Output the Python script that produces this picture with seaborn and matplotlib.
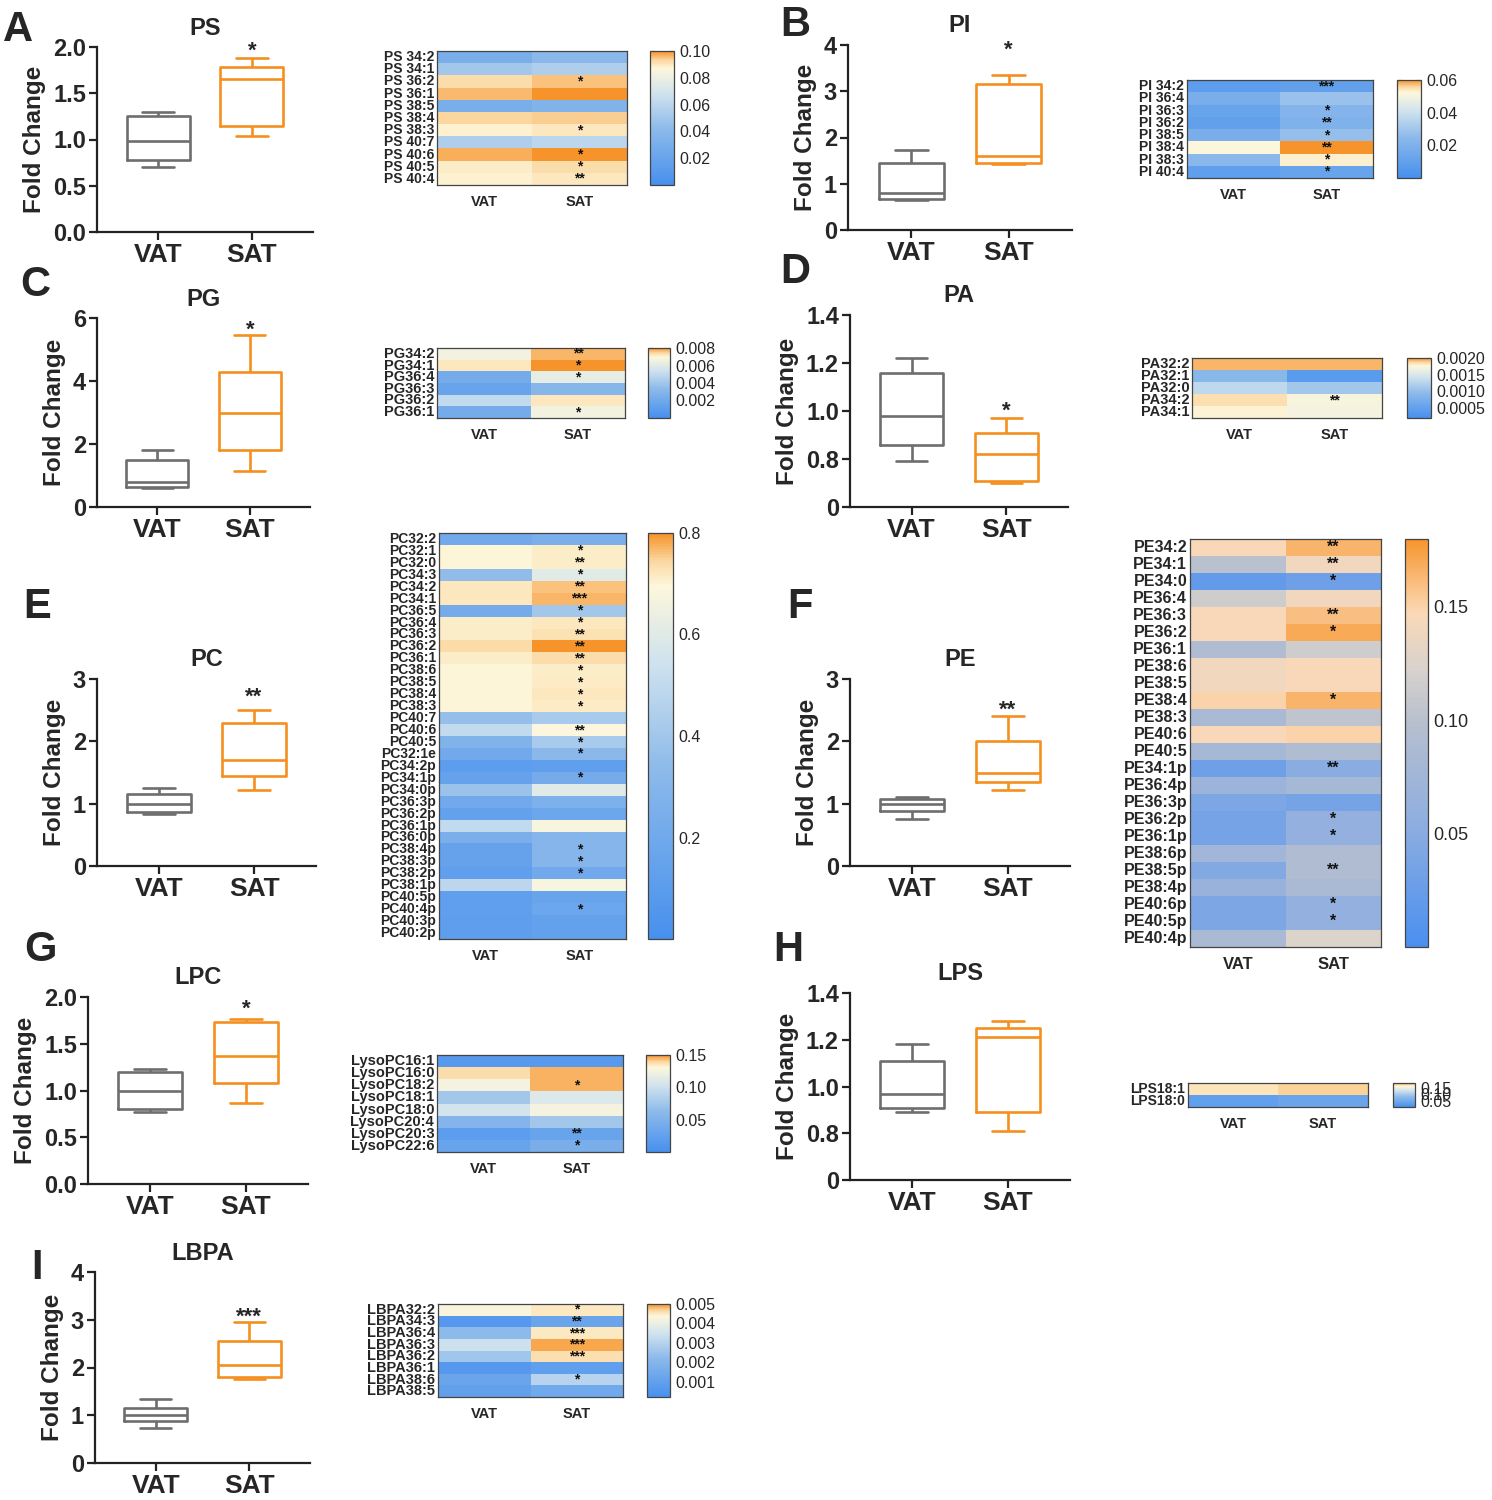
import numpy as np
import pandas as pd
import matplotlib
matplotlib.use("Agg")
import matplotlib.pyplot as plt
import seaborn as sns
from matplotlib.colors import LinearSegmentedColormap
from matplotlib.ticker import FormatStrFormatter

groups = ["VAT", "SAT"]

# ---------------- box plot summaries: [min, q1, median, q3, max] ----------------
PS_box_VAT = [0.70, 0.78, 0.98, 1.25, 1.30]
PS_box_SAT = [1.04, 1.15, 1.65, 1.78, 1.88]
PI_box_VAT = [0.65, 0.68, 0.80, 1.45, 1.72]
PI_box_SAT = [1.42, 1.45, 1.60, 3.15, 3.35]
PG_box_VAT = [0.60, 0.65, 0.80, 1.50, 1.80]
PG_box_SAT = [1.15, 1.80, 3.00, 4.30, 5.45]
PA_box_VAT = [0.79, 0.86, 0.98, 1.16, 1.22]
PA_box_SAT = [0.70, 0.71, 0.82, 0.91, 0.97]
PC_box_VAT = [0.83, 0.87, 1.00, 1.15, 1.25]
PC_box_SAT = [1.22, 1.45, 1.70, 2.30, 2.50]
PE_box_VAT = [0.75, 0.88, 1.00, 1.08, 1.10]
PE_box_SAT = [1.22, 1.35, 1.50, 2.00, 2.40]
LPC_box_VAT = [0.77, 0.80, 1.00, 1.20, 1.23]
LPC_box_SAT = [0.87, 1.08, 1.37, 1.73, 1.77]
LPS_box_VAT = [0.89, 0.91, 0.97, 1.11, 1.18]
LPS_box_SAT = [0.81, 0.89, 1.21, 1.25, 1.28]
LBPA_box_VAT = [0.73, 0.88, 1.00, 1.15, 1.35]
LBPA_box_SAT = [1.75, 1.80, 2.05, 2.55, 2.95]
box_sig = {"PS": "*", "PI": "*", "PG": "*", "PA": "*", "PC": "**", "PE": "**",
           "LPC": "*", "LPS": "", "LBPA": "***"}

# ---------------- heatmap data ----------------
PS_species = ["PS 34:2", "PS 34:1", "PS 36:2", "PS 36:1", "PS 38:5", "PS 38:4",
              "PS 38:3", "PS 40:7", "PS 40:6", "PS 40:5", "PS 40:4"]
PS_VAT = [0.030, 0.050, 0.092, 0.096, 0.030, 0.093, 0.088, 0.055, 0.097, 0.089, 0.088]
PS_SAT = [0.040, 0.055, 0.095, 0.100, 0.035, 0.094, 0.090, 0.060, 0.100, 0.092, 0.090]
PS_sig = ["", "", "*", "", "", "", "*", "", "*", "*", "**"]

PI_species = ["PI 34:2", "PI 36:4", "PI 36:3", "PI 36:2", "PI 38:5", "PI 38:4",
              "PI 38:3", "PI 40:4"]
PI_VAT = [0.008, 0.018, 0.012, 0.010, 0.018, 0.052, 0.024, 0.009]
PI_SAT = [0.010, 0.028, 0.022, 0.020, 0.027, 0.060, 0.053, 0.012]
PI_sig = ["***", "", "*", "**", "*", "**", "*", "*"]

PG_species = ["PG34:2", "PG34:1", "PG36:4", "PG36:3", "PG36:2", "PG36:1"]
PG_VAT = [0.0066, 0.0072, 0.0022, 0.0016, 0.0050, 0.0022]
PG_SAT = [0.0077, 0.0080, 0.0062, 0.0030, 0.0072, 0.0066]
PG_sig = ["**", "*", "*", "", "", "*"]

PA_species = ["PA32:2", "PA32:1", "PA32:0", "PA34:2", "PA34:1"]
PA_VAT = [0.00193, 0.0009, 0.0013, 0.00185, 0.00178]
PA_SAT = [0.00193, 0.0004, 0.0011, 0.00172, 0.00170]
PA_sig = ["", "", "", "**", ""]

PC_species = ["PC32:2", "PC32:1", "PC32:0", "PC34:3", "PC34:2", "PC34:1", "PC36:5",
              "PC36:4", "PC36:3", "PC36:2", "PC36:1", "PC38:6", "PC38:5", "PC38:4",
              "PC38:3", "PC40:7", "PC40:6", "PC40:5", "PC32:1e", "PC34:2p", "PC34:1p",
              "PC34:0p", "PC36:3p", "PC36:2p", "PC36:1p", "PC36:0p", "PC38:4p",
              "PC38:3p", "PC38:2p", "PC38:1p", "PC40:5p", "PC40:4p", "PC40:3p", "PC40:2p"]
PC_VAT = [0.20, 0.70, 0.70, 0.35, 0.72, 0.72, 0.22, 0.71, 0.71, 0.74, 0.71, 0.70,
          0.70, 0.70, 0.70, 0.36, 0.50, 0.28, 0.20, 0.10, 0.15, 0.38, 0.20, 0.14,
          0.50, 0.25, 0.15, 0.15, 0.12, 0.48, 0.12, 0.12, 0.11, 0.11]
PC_SAT = [0.25, 0.71, 0.71, 0.60, 0.76, 0.77, 0.40, 0.72, 0.73, 0.80, 0.735, 0.71,
          0.715, 0.72, 0.715, 0.42, 0.69, 0.42, 0.32, 0.12, 0.22, 0.60, 0.26, 0.18,
          0.68, 0.30, 0.30, 0.30, 0.20, 0.68, 0.16, 0.18, 0.14, 0.14]
PC_sig = ["", "*", "**", "*", "**", "***", "*", "*", "**", "**", "**", "*", "*", "*",
          "*", "", "**", "*", "*", "", "*", "", "", "", "", "", "*", "*", "*", "", "",
          "*", "", ""]

PE_species = ["PE34:2", "PE34:1", "PE34:0", "PE36:4", "PE36:3", "PE36:2", "PE36:1",
              "PE38:6", "PE38:5", "PE38:4", "PE38:3", "PE40:6", "PE40:5", "PE34:1p",
              "PE36:4p", "PE36:3p", "PE36:2p", "PE36:1p", "PE38:6p", "PE38:5p",
              "PE38:4p", "PE40:6p", "PE40:5p", "PE40:4p"]
PE_VAT = [0.145, 0.100, 0.020, 0.115, 0.145, 0.145, 0.090, 0.140, 0.140, 0.150,
          0.085, 0.145, 0.080, 0.030, 0.070, 0.040, 0.035, 0.035, 0.075, 0.045,
          0.065, 0.040, 0.040, 0.085]
PE_SAT = [0.165, 0.140, 0.030, 0.140, 0.160, 0.170, 0.115, 0.145, 0.145, 0.165,
          0.105, 0.150, 0.090, 0.050, 0.080, 0.035, 0.060, 0.060, 0.090, 0.090,
          0.085, 0.060, 0.060, 0.125]
PE_sig = ["**", "**", "*", "", "**", "*", "", "", "", "*", "", "", "", "**", "", "",
          "*", "*", "", "**", "", "*", "*", ""]

LPC_species = ["LysoPC16:1", "LysoPC16:0", "LysoPC18:2", "LysoPC18:1", "LysoPC18:0",
               "LysoPC20:4", "LysoPC20:3", "LysoPC22:6"]
LPC_VAT = [0.015, 0.138, 0.125, 0.075, 0.105, 0.055, 0.020, 0.030]
LPC_SAT = [0.015, 0.145, 0.145, 0.110, 0.125, 0.075, 0.030, 0.045]
LPC_sig = ["", "", "*", "", "", "", "**", "*"]

LPS_species = ["LPS18:1", "LPS18:0"]
LPS_VAT = [0.172, 0.030]
LPS_SAT = [0.178, 0.040]
LPS_sig = ["", ""]

LBPA_species = ["LBPA32:2", "LBPA34:3", "LBPA36:4", "LBPA36:3", "LBPA36:2",
                "LBPA36:1", "LBPA38:6", "LBPA38:5"]
LBPA_VAT = [0.0043, 0.0006, 0.0022, 0.0034, 0.0026, 0.0006, 0.0012, 0.0010]
LBPA_SAT = [0.0045, 0.0012, 0.0045, 0.0049, 0.0046, 0.0009, 0.0030, 0.0014]
LBPA_sig = ["*", "**", "***", "***", "***", "", "*", ""]

# ---------------- style ----------------
sns.set_theme(style="ticks")
plt.rcParams["font.family"] = ["Liberation Sans", "DejaVu Sans"]
plt.rcParams["font.weight"] = "bold"

W, H = 1492, 1500
fig = plt.figure(figsize=(W / 100, H / 100), dpi=100)
fig.patch.set_facecolor("white")

def px_axes(x0, y0, x1, y1):
    return fig.add_axes([x0 / W, 1 - y1 / H, (x1 - x0) / W, (y1 - y0) / H])

cmap_main = LinearSegmentedColormap.from_list(
    "bo", [(0.0, "#4790ee"), (0.42, "#8dbaea"), (0.68, "#cfe2ee"),
           (0.87, "#fdf7dc"), (0.93, "#fbd9a4"), (1.0, "#f7932b")])
cmap_pe = LinearSegmentedColormap.from_list(
    "pe", [(0.0, "#4a8ff0"), (0.30, "#8eaee0"), (0.55, "#b7bfce"),
           (0.68, "#d8d2cd"), (0.82, "#fbd9b7"), (1.0, "#f7952d")])

pal = {"VAT": "#6e6e6e", "SAT": "#f5901f"}

panels = [
    dict(name="PS", letter="A", bv=PS_box_VAT, bs=PS_box_SAT, ylim=(0, 2.0),
         yt=[0, 0.5, 1.0, 1.5, 2.0], ytl=["0.0", "0.5", "1.0", "1.5", "2.0"],
         box=(97, 47, 313, 232), lpos=(18, 30), stary=1.95,
         sp=PS_species, hv=PS_VAT, hs=PS_SAT, hsig=PS_sig,
         hm=(437, 51, 627, 185), cb=(650, 51, 674, 185), vmin=0, vmax=0.10,
         ct=[0.02, 0.04, 0.06, 0.08, 0.10], cf="%.2f", cmap=cmap_main,
         lfs=10, cfs=11.5, xfs=10.5, sfs=10),
    dict(name="PI", letter="B", bv=PI_box_VAT, bs=PI_box_SAT, ylim=(0, 4),
         yt=[0, 1, 2, 3, 4], ytl=["0", "1", "2", "3", "4"],
         box=(848, 45, 1072, 230), lpos=(795, 25), stary=3.88,
         sp=PI_species, hv=PI_VAT, hs=PI_SAT, hsig=PI_sig,
         hm=(1187, 80, 1373, 178), cb=(1397, 80, 1421, 178), vmin=0, vmax=0.06,
         ct=[0.02, 0.04, 0.06], cf="%.2f", cmap=cmap_main,
         lfs=10, cfs=11.5, xfs=10.5, sfs=10),
    dict(name="PG", letter="C", bv=PG_box_VAT, bs=PG_box_SAT, ylim=(0, 6),
         yt=[0, 2, 4, 6], ytl=["0", "2", "4", "6"],
         box=(97, 318, 310, 507), lpos=(35, 285), stary=5.6,
         sp=PG_species, hv=PG_VAT, hs=PG_SAT, hsig=PG_sig,
         hm=(437, 348, 625, 418), cb=(648, 348, 670, 418), vmin=0, vmax=0.008,
         ct=[0.002, 0.004, 0.006, 0.008], cf="%.3f", cmap=cmap_main,
         lfs=10.5, cfs=11.5, xfs=10.5, sfs=10),
    dict(name="PA", letter="D", bv=PA_box_VAT, bs=PA_box_SAT, ylim=(0.6, 1.4),
         yt=[0.6, 0.8, 1.0, 1.2, 1.4], ytl=["0", "0.8", "1.0", "1.2", "1.4"],
         box=(850, 315, 1068, 507), lpos=(795, 272), stary=1.0,
         sp=PA_species, hv=PA_VAT, hs=PA_SAT, hsig=PA_sig,
         hm=(1192, 358, 1382, 418), cb=(1407, 358, 1431, 418), vmin=0.0002,
         vmax=0.0020, ct=[0.0005, 0.0010, 0.0015, 0.0020], cf="%.4f",
         cmap=cmap_main, lfs=10.5, cfs=11.5, xfs=10.5, sfs=10),
    dict(name="PC", letter="E", bv=PC_box_VAT, bs=PC_box_SAT, ylim=(0, 3),
         yt=[0, 1, 2, 3], ytl=["0", "1", "2", "3"],
         box=(97, 679, 316, 866), lpos=(37, 607), stary=2.7,
         sp=PC_species, hv=PC_VAT, hs=PC_SAT, hsig=PC_sig,
         hm=(439, 533, 626, 939), cb=(648, 533, 673, 939), vmin=0, vmax=0.8,
         ct=[0.2, 0.4, 0.6, 0.8], cf="%.1f", cmap=cmap_main,
         lfs=10, cfs=11.5, xfs=10.5, sfs=10),
    dict(name="PE", letter="F", bv=PE_box_VAT, bs=PE_box_SAT, ylim=(0, 3),
         yt=[0, 1, 2, 3], ytl=["0", "1", "2", "3"],
         box=(850, 679, 1070, 866), lpos=(800, 607), stary=2.5,
         sp=PE_species, hv=PE_VAT, hs=PE_SAT, hsig=PE_sig,
         hm=(1190, 539, 1381, 947), cb=(1405, 539, 1428, 947), vmin=0, vmax=0.18,
         ct=[0.05, 0.10, 0.15], cf="%.2f", cmap=cmap_pe,
         lfs=11.5, cfs=13, xfs=12, sfs=11.5),
    dict(name="LPC", letter="G", bv=LPC_box_VAT, bs=LPC_box_SAT, ylim=(0, 2.0),
         yt=[0, 0.5, 1.0, 1.5, 2.0], ytl=["0.0", "0.5", "1.0", "1.5", "2.0"],
         box=(88, 997, 308, 1184), lpos=(40, 950), stary=1.87,
         sp=LPC_species, hv=LPC_VAT, hs=LPC_SAT, hsig=LPC_sig,
         hm=(437, 1055, 623, 1152), cb=(646, 1055, 670, 1152), vmin=0, vmax=0.15,
         ct=[0.05, 0.10, 0.15], cf="%.2f", cmap=cmap_main,
         lfs=10.5, cfs=11.5, xfs=10.5, sfs=10),
    dict(name="LPS", letter="H", bv=LPS_box_VAT, bs=LPS_box_SAT, ylim=(0.6, 1.4),
         yt=[0.6, 0.8, 1.0, 1.2, 1.4], ytl=["0", "0.8", "1.0", "1.2", "1.4"],
         box=(850, 993, 1070, 1180), lpos=(788, 950), stary=None,
         sp=LPS_species, hv=LPS_VAT, hs=LPS_SAT, hsig=LPS_sig,
         hm=(1188, 1083, 1368, 1107), cb=(1393, 1083, 1415, 1107), vmin=0.0,
         vmax=0.19, ct=[0.05, 0.10, 0.15], cf="%.2f", cmap=cmap_main,
         lfs=10, cfs=11.5, xfs=10.5, sfs=10),
    dict(name="LBPA", letter="I", bv=LBPA_box_VAT, bs=LBPA_box_SAT, ylim=(0, 4),
         yt=[0, 1, 2, 3, 4], ytl=["0", "1", "2", "3", "4"],
         box=(95, 1272, 310, 1463), lpos=(37, 1268), stary=3.05,
         sp=LBPA_species, hv=LBPA_VAT, hs=LBPA_SAT, hsig=LBPA_sig,
         hm=(438, 1304, 623, 1397), cb=(647, 1304, 670, 1397), vmin=0.0002,
         vmax=0.005, ct=[0.001, 0.002, 0.003, 0.004, 0.005], cf="%.3f",
         cmap=cmap_main, lfs=10.5, cfs=11.5, xfs=10.5, sfs=10),
]

for p in panels:
    # ---------- box plot ----------
    ax = px_axes(*p["box"])
    df = pd.DataFrame({"group": ["VAT"] * len(p["bv"]) + ["SAT"] * len(p["bs"]),
                       "fc": p["bv"] + p["bs"]})
    sns.boxplot(data=df, x="group", y="fc", hue="group", order=groups,
                hue_order=groups, palette=pal, fill=False, whis=(0, 100),
                width=0.67, linewidth=1.9, legend=False, ax=ax)
    ax.set_xlim(-0.65, 1.65)
    ax.set_ylim(*p["ylim"])
    ax.set_yticks(p["yt"])
    ax.set_yticklabels(p["ytl"], fontsize=17, fontweight="bold")
    ax.set_xticks([0, 1])
    ax.set_xticklabels(groups, fontsize=19, fontweight="bold")
    ax.set_xlabel("")
    ax.set_ylabel("Fold Change", fontsize=17.5, fontweight="bold", labelpad=5)
    ax.set_title(p["name"], fontsize=17, fontweight="bold", pad=9)
    sns.despine(ax=ax)
    for s in ["left", "bottom"]:
        ax.spines[s].set_linewidth(1.6)
        ax.spines[s].set_color("#222222")
    ax.tick_params(axis="both", width=1.6, length=6, color="#222222", pad=2)
    ax.patch.set_alpha(0)
    if box_sig[p["name"]] and p["stary"] is not None:
        ax.text(1, p["stary"], box_sig[p["name"]], ha="center", va="center",
                fontsize=16, fontweight="bold", clip_on=False)
    fx, fy = p["lpos"]
    fig.text(fx / W, 1 - fy / H, p["letter"], fontsize=30, fontweight="bold",
             ha="center", va="center")

    # ---------- heatmap ----------
    hax = px_axes(*p["hm"])
    cax = px_axes(*p["cb"])
    mat = pd.DataFrame({"VAT": p["hv"], "SAT": p["hs"]}, index=p["sp"])
    ann = pd.DataFrame({"VAT": [""] * len(p["sp"]), "SAT": p["hsig"]}, index=p["sp"])
    sns.heatmap(mat, ax=hax, cbar_ax=cax, cmap=p["cmap"], vmin=p["vmin"],
                vmax=p["vmax"], annot=ann, fmt="",
                annot_kws={"color": "#111111", "fontsize": p["sfs"],
                           "fontweight": "bold"},
                xticklabels=True, yticklabels=True,
                cbar_kws={"ticks": p["ct"], "format": FormatStrFormatter(p["cf"])})
    for s in hax.spines.values():
        s.set_visible(True)
        s.set_linewidth(0.9)
        s.set_color("#444444")
    hax.set_yticklabels(p["sp"], rotation=0, fontsize=p["lfs"], fontweight="bold")
    hax.set_xticklabels(groups, rotation=0, fontsize=p["xfs"], fontweight="bold")
    hax.tick_params(axis="both", length=0, pad=2)
    hax.tick_params(axis="x", pad=7)
    hax.set_xlabel("")
    hax.set_ylabel("")
    cax.tick_params(direction="in", length=3.5, width=0.8, left=True, right=True,
                    labelright=True, labelleft=False, labelsize=p["cfs"], pad=4,
                    color="#333333")
    for t in cax.get_yticklabels():
        t.set_fontweight("normal")
    cbar = hax.collections[0].colorbar
    cbar.outline.set_linewidth(0.9)
    cbar.outline.set_edgecolor("#444444")

fig.savefig("out.png", dpi=100, facecolor="white")
